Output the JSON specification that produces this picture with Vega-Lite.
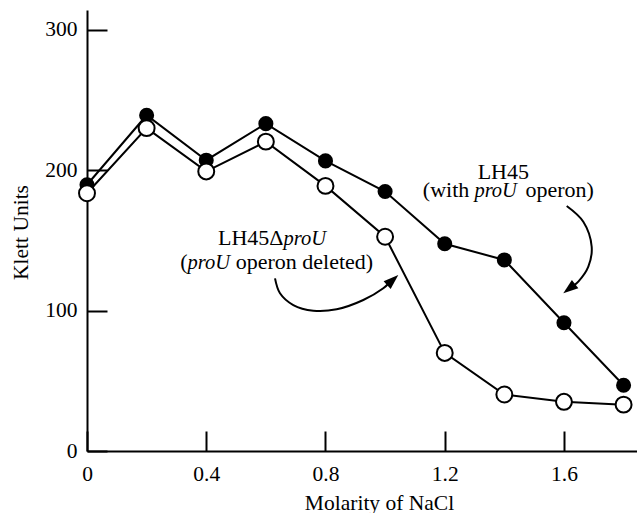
{
  "$schema": "https://vega.github.io/schema/vega-lite/v6.json",
  "width": 550,
  "height": 441,
  "autosize": "none",
  "padding": {"left": 87, "top": 10, "right": 0, "bottom": 62},
  "background": "white",
  "config": {
    "view": {"stroke": null},
    "font": "Liberation Serif",
    "axis": {
      "grid": false,
      "domainColor": "black",
      "domainWidth": 2,
      "tickColor": "black",
      "tickWidth": 2,
      "tickSize": -20,
      "labelFont": "Liberation Serif",
      "labelFontSize": 21.5,
      "labelColor": "black",
      "labelFlush": false,
      "titleFont": "Liberation Serif",
      "titleFontSize": 21.5,
      "titleFontWeight": "normal",
      "titleColor": "black"
    }
  },
  "datasets": {
    "series": [
      {"molarity": 0.0, "klett": 189.5, "strain": "LH45"},
      {"molarity": 0.2, "klett": 239, "strain": "LH45"},
      {"molarity": 0.4, "klett": 207, "strain": "LH45"},
      {"molarity": 0.6, "klett": 233, "strain": "LH45"},
      {"molarity": 0.8, "klett": 206.5, "strain": "LH45"},
      {"molarity": 1.0, "klett": 184.7, "strain": "LH45"},
      {"molarity": 1.2, "klett": 147.5, "strain": "LH45"},
      {"molarity": 1.4, "klett": 136, "strain": "LH45"},
      {"molarity": 1.6, "klett": 91.3, "strain": "LH45"},
      {"molarity": 1.8, "klett": 46.8, "strain": "LH45"},
      {"molarity": 0.0, "klett": 183.5, "strain": "LH45ΔproU"},
      {"molarity": 0.2, "klett": 229.8, "strain": "LH45ΔproU"},
      {"molarity": 0.4, "klett": 199, "strain": "LH45ΔproU"},
      {"molarity": 0.6, "klett": 220.2, "strain": "LH45ΔproU"},
      {"molarity": 0.8, "klett": 188.7, "strain": "LH45ΔproU"},
      {"molarity": 1.0, "klett": 152.5, "strain": "LH45ΔproU"},
      {"molarity": 1.2, "klett": 69.8, "strain": "LH45ΔproU"},
      {"molarity": 1.4, "klett": 40.2, "strain": "LH45ΔproU"},
      {"molarity": 1.6, "klett": 35, "strain": "LH45ΔproU"},
      {"molarity": 1.8, "klett": 33, "strain": "LH45ΔproU"}
    ],
    "roman": [
      {"x": 1.3965, "y": 193.6, "text": "LH45", "anchor": "center"},
      {"x": 1.1265, "y": 180.8, "text": "(with", "anchor": "left"},
      {"x": 1.471, "y": 180.8, "text": "operon)", "anchor": "left"},
      {"x": 0.6592, "y": 146.6, "text": "LH45Δ", "anchor": "right"},
      {"x": 0.3371, "y": 129.9, "text": "(", "anchor": "right"},
      {"x": 0.4988, "y": 129.9, "text": "operon deleted)", "anchor": "left"}
    ],
    "italic": [
      {"x": 1.2995, "y": 180.8, "text": "proU"},
      {"x": 0.6592, "y": 146.6, "text": "proU"},
      {"x": 0.3371, "y": 129.9, "text": "proU"}
    ],
    "arrows": [
      {"arrow": "a1", "ord": 1, "x": 1.6092, "y": 174.4},
      {"arrow": "a1", "ord": 2, "x": 1.6649, "y": 163.2},
      {"arrow": "a1", "ord": 3, "x": 1.6930, "y": 145.4},
      {"arrow": "a1", "ord": 4, "x": 1.6817, "y": 131.2},
      {"arrow": "a1", "ord": 5, "x": 1.6481, "y": 120.5},
      {"arrow": "a1", "ord": 6, "x": 1.6353, "y": 118.2},
      {"arrow": "a2", "ord": 1, "x": 0.6307, "y": 122.9},
      {"arrow": "a2", "ord": 2, "x": 0.6474, "y": 112.3},
      {"arrow": "a2", "ord": 3, "x": 0.6921, "y": 103.9},
      {"arrow": "a2", "ord": 4, "x": 0.7591, "y": 99.9},
      {"arrow": "a2", "ord": 5, "x": 0.8376, "y": 100.9},
      {"arrow": "a2", "ord": 6, "x": 0.9269, "y": 107.5},
      {"arrow": "a2", "ord": 7, "x": 0.9940, "y": 115.8},
      {"arrow": "a2", "ord": 8, "x": 1.0131, "y": 119.6}
    ],
    "heads": [
      {"arrow": "a1", "x": 1.6176, "y": 115.5},
      {"arrow": "a2", "x": 1.0255, "y": 121.7}
    ]
  },
  "layer": [
    {
      "data": {"name": "series"},
      "mark": {"type": "line", "color": "black", "strokeWidth": 2},
      "encoding": {
        "x": {
          "field": "molarity", "type": "quantitative",
          "scale": {"domain": [0, 1.845], "nice": false, "zero": false},
          "axis": {
            "title": "Molarity of NaCl",
            "values": [0, 0.4, 0.8, 1.2, 1.6],
            "labelExpr": "datum.value == 0 ? '0' : format(datum.value, '.1f')",
            "labelPadding": 32,
            "titleX": 292,
            "titleY": 52,
            "titleBaseline": "middle",
            "titleAnchor": null
          }
        },
        "y": {
          "field": "klett", "type": "quantitative",
          "scale": {"domain": [0, 313.9], "nice": false},
          "axis": {
            "title": "Klett Units",
            "values": [0, 100, 200, 300],
            "labelPadding": 30,
            "titleX": -66,
            "titleY": 222,
            "titleBaseline": "middle",
            "titleAngle": -90
          }
        },
        "detail": {"field": "strain"}
      }
    },
    {
      "data": {"name": "series"},
      "transform": [{"filter": "datum.strain == 'LH45'"}],
      "mark": {"type": "point", "shape": "circle", "filled": true, "color": "black", "opacity": 1, "size": 227},
      "encoding": {
        "x": {"field": "molarity", "type": "quantitative"},
        "y": {"field": "klett", "type": "quantitative"}
      }
    },
    {
      "data": {"name": "series"},
      "transform": [{"filter": "datum.strain != 'LH45'"}],
      "mark": {"type": "point", "shape": "circle", "filled": true, "fill": "white", "stroke": "black", "strokeWidth": 2, "opacity": 1, "size": 254},
      "encoding": {
        "x": {"field": "molarity", "type": "quantitative"},
        "y": {"field": "klett", "type": "quantitative"}
      }
    },
    {
      "data": {"name": "arrows"},
      "mark": {"type": "line", "color": "black", "strokeWidth": 2, "interpolate": "catmull-rom"},
      "encoding": {
        "x": {"field": "x", "type": "quantitative"},
        "y": {"field": "y", "type": "quantitative"},
        "detail": {"field": "arrow"},
        "order": {"field": "ord", "type": "quantitative"}
      }
    },
    {
      "data": {"name": "heads"},
      "transform": [{"filter": "datum.arrow == 'a1'"}],
      "mark": {"type": "point", "shape": "M0,-1L0.7,1L-0.7,1Z", "filled": true, "color": "black", "opacity": 1, "size": 225, "angle": 232},
      "encoding": {
        "x": {"field": "x", "type": "quantitative"},
        "y": {"field": "y", "type": "quantitative"}
      }
    },
    {
      "data": {"name": "heads"},
      "transform": [{"filter": "datum.arrow == 'a2'"}],
      "mark": {"type": "point", "shape": "M0,-1L0.7,1L-0.7,1Z", "filled": true, "color": "black", "opacity": 1, "size": 225, "angle": 48},
      "encoding": {
        "x": {"field": "x", "type": "quantitative"},
        "y": {"field": "y", "type": "quantitative"}
      }
    },
    {
      "data": {"name": "roman"},
      "transform": [{"filter": "datum.anchor == 'left'"}],
      "mark": {"type": "text", "font": "Liberation Serif", "fontSize": 22, "color": "black", "align": "left", "baseline": "alphabetic"},
      "encoding": {
        "x": {"field": "x", "type": "quantitative"},
        "y": {"field": "y", "type": "quantitative"},
        "text": {"field": "text"}
      }
    },
    {
      "data": {"name": "roman"},
      "transform": [{"filter": "datum.anchor == 'right'"}],
      "mark": {"type": "text", "font": "Liberation Serif", "fontSize": 22, "color": "black", "align": "right", "baseline": "alphabetic"},
      "encoding": {
        "x": {"field": "x", "type": "quantitative"},
        "y": {"field": "y", "type": "quantitative"},
        "text": {"field": "text"}
      }
    },
    {
      "data": {"name": "roman"},
      "transform": [{"filter": "datum.anchor == 'center'"}],
      "mark": {"type": "text", "font": "Liberation Serif", "fontSize": 22, "color": "black", "align": "center", "baseline": "alphabetic"},
      "encoding": {
        "x": {"field": "x", "type": "quantitative"},
        "y": {"field": "y", "type": "quantitative"},
        "text": {"field": "text"}
      }
    },
    {
      "data": {"name": "italic"},
      "mark": {"type": "text", "font": "Liberation Serif", "fontSize": 20.5, "fontStyle": "italic", "color": "black", "align": "left", "baseline": "alphabetic"},
      "encoding": {
        "x": {"field": "x", "type": "quantitative"},
        "y": {"field": "y", "type": "quantitative"},
        "text": {"field": "text"}
      }
    }
  ]
}
